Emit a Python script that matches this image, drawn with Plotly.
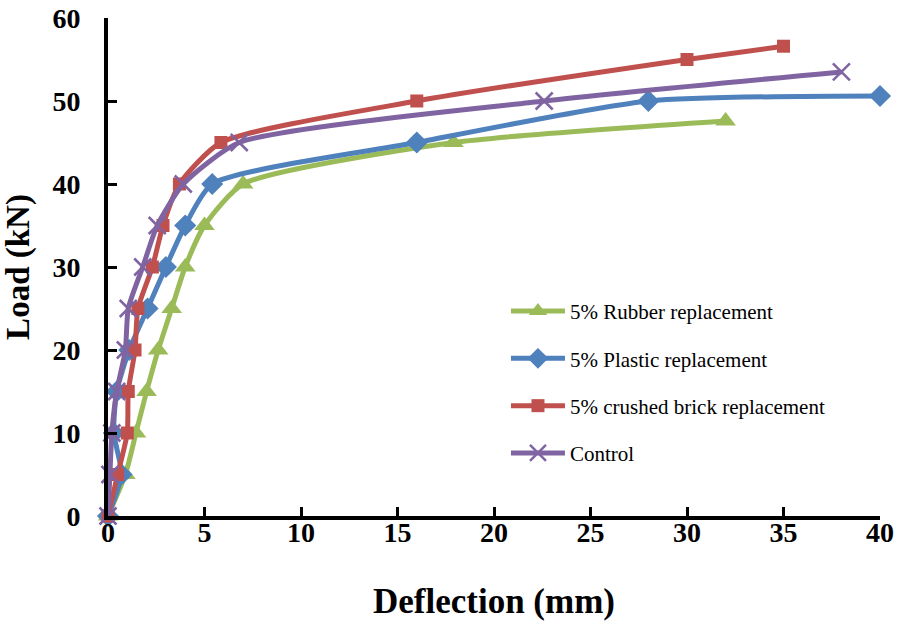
import plotly.graph_objects as go

rubber_x = [0, 0.9, 1.45, 2.0, 2.6, 3.3, 4.0, 5.0, 7.0, 17.9, 32.0]
rubber_y = [0, 5, 10, 15, 20, 25, 30, 35, 40, 45, 47.6]

plastic_x = [0, 0.7, 0.3, 0.45, 1.1, 2.05, 3.0, 4.0, 5.4, 16.0, 28.0, 40.0]
plastic_y = [0, 5, 10, 15, 20, 25, 30, 35, 40, 45, 50, 50.6]

brick_x = [0, 0.5, 1.0, 1.05, 1.4, 1.55, 2.3, 2.85, 3.7, 5.85, 16.0, 30.0, 35.0]
brick_y = [0, 5, 10, 15, 20, 25, 30, 35, 40, 45, 50, 55, 56.6]

control_x = [0, 0.1, 0.2, 0.45, 0.9, 1.05, 1.8, 2.55, 3.9, 6.8, 22.6, 38.0]
control_y = [0, 5, 10, 15, 20, 25, 30, 35, 40, 45, 50, 53.5]

names = ["5% Rubber replacement", "5% Plastic replacement",
         "5% crushed brick replacement", "Control"]
colors = ["#9BBB59", "#4F81BD", "#C0504D", "#8064A2"]
symbols = ["triangle-up", "diamond", "square", "x-thin"]
sizes = [18, 17, 13, 17]

fig = go.Figure()
series = [(rubber_x, rubber_y), (plastic_x, plastic_y), (brick_x, brick_y), (control_x, control_y)]
for i, (xs, ys) in enumerate(series):
    marker = dict(symbol=symbols[i], size=sizes[i], color=colors[i])
    if symbols[i] == "x-thin":
        marker["line"] = dict(color=colors[i], width=2.5)
    fig.add_trace(go.Scatter(
        x=xs, y=ys, name=names[i], mode="lines+markers",
        line=dict(color=colors[i], width=5, shape="spline", smoothing=0.6),
        marker=marker, cliponaxis=False, legendgroup=f"g{i}",
    ))

fig.update_layout(
    width=898, height=628,
    margin=dict(l=108, r=18, t=18, b=112),
    paper_bgcolor="white", plot_bgcolor="white",
    font=dict(family="Liberation Serif", color="black"),
    showlegend=True,
    legend=dict(x=0.5155, y=0.452, xanchor="left", yanchor="top",
                font=dict(family="Liberation Serif", size=21, color="black"),
                tracegroupgap=17, bgcolor="rgba(0,0,0,0)", itemwidth=54),
)
fig.update_xaxes(
    range=[0, 40], dtick=5, showgrid=False, zeroline=False, automargin=False,
    showline=True, linecolor="black", linewidth=4,
    ticks="inside", ticklen=9, tickwidth=3, tickcolor="black",
    tickfont=dict(family="Liberation Serif", size=28, color="black", weight="bold"),
    ticklabelstandoff=-12, ticklabeloverflow="allow",
    title=dict(text="<b>Deflection (mm)</b>", font=dict(family="Liberation Serif", size=35, color="black"), standoff=43),
)
fig.update_yaxes(
    range=[0, 60], dtick=10, showgrid=False, zeroline=False, automargin=False,
    showline=True, linecolor="black", linewidth=4,
    ticks="inside", ticklen=9, tickwidth=3, tickcolor="black",
    tickfont=dict(family="Liberation Serif", size=28, color="black", weight="bold"),
    ticklabelstandoff=18, ticklabeloverflow="allow",
    title=dict(text="<b>Load (kN)</b>", font=dict(family="Liberation Serif", size=33, color="black"), standoff=28),
)

fig.write_html("out.html", config={"displayModeBar": False},
               post_script="document.body.style.margin='0';document.body.style.overflow='hidden';")
